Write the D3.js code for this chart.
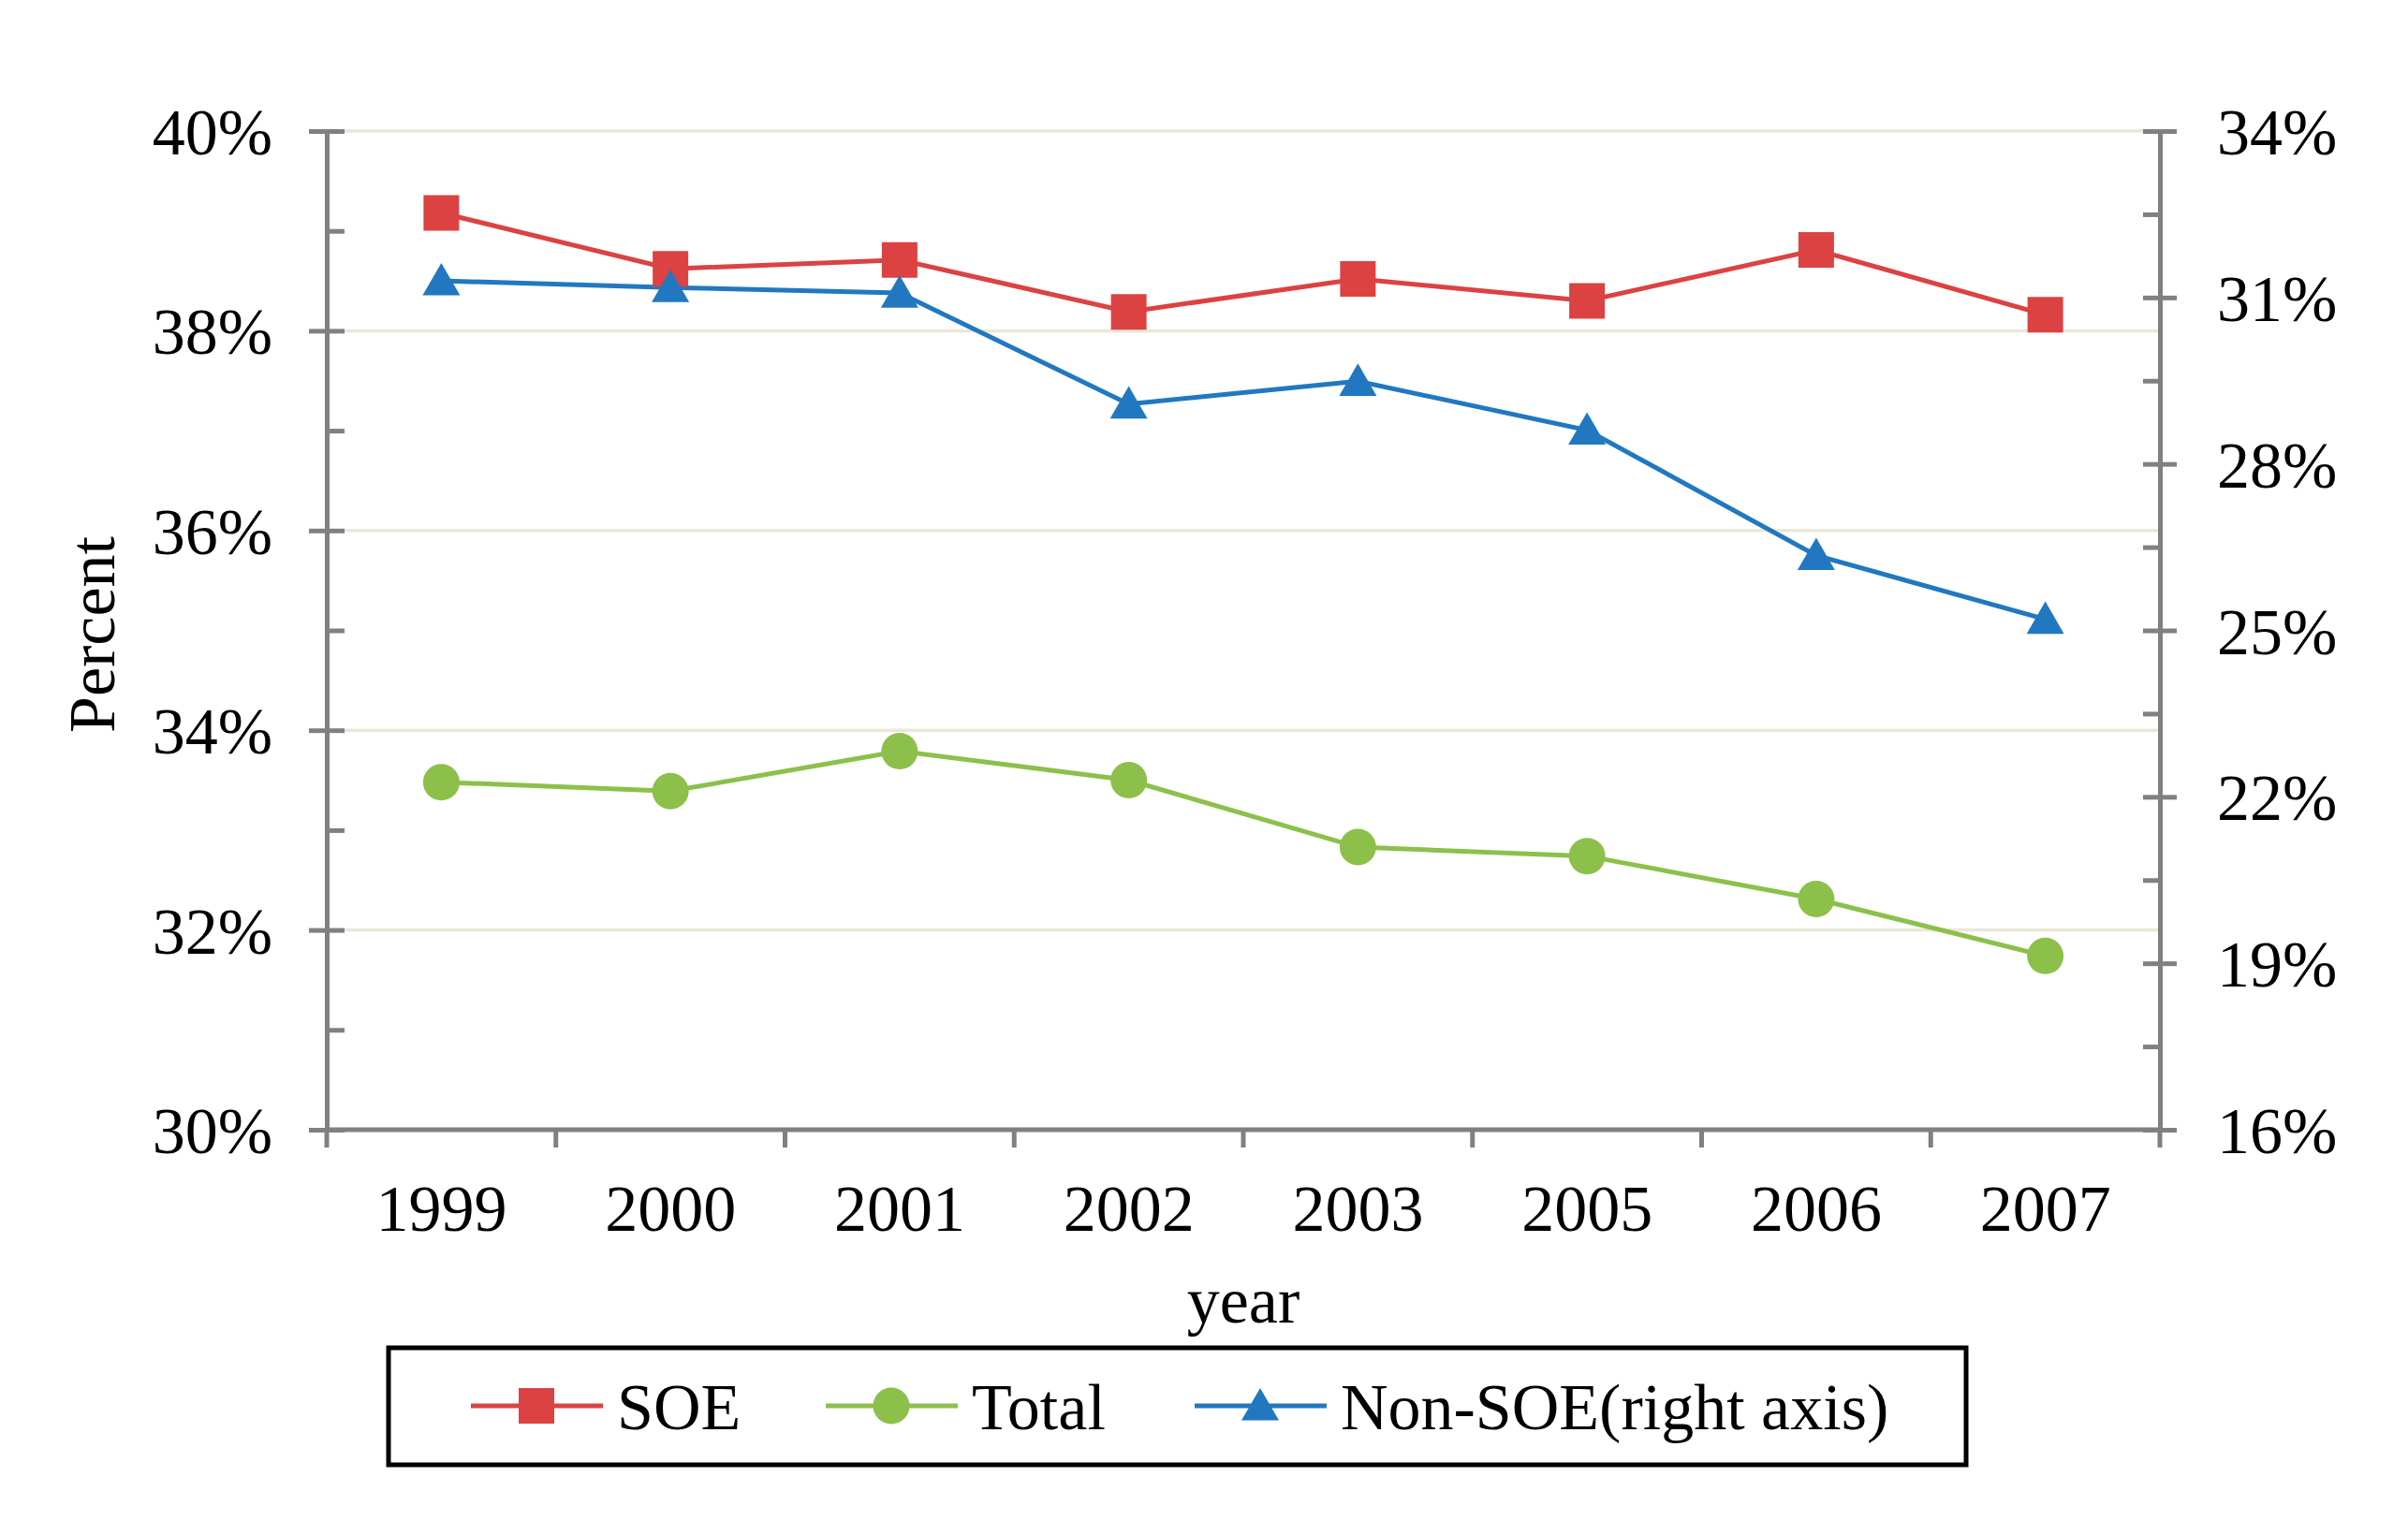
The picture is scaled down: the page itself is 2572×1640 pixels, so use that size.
<!DOCTYPE html>
<html>
<head>
<meta charset="utf-8">
<script src="https://cdn.jsdelivr.net/npm/d3@7"></script>
<style>
  body { margin: 0; background: #fff; }
  text { font-family: "Liberation Serif", "Times New Roman", serif; fill: #000; }
</style>
</head>
<body>
<div id="chart"></div>
<script>
// --- data ---
const years = ['1999', '2000', '2001', '2002', '2003', '2005', '2006', '2007'];
const soe = [39.18, 38.62, 38.71, 38.19, 38.52, 38.30, 38.81, 38.16];
const total = [33.48, 33.39, 33.79, 33.50, 32.83, 32.74, 32.31, 31.74];
const nonSoe = [31.30, 31.18, 31.08, 29.08, 29.49, 28.61, 26.35, 25.20];
const leftTicks = [30, 32, 34, 36, 38, 40];
const leftMinor = [30, 31, 32, 33, 34, 35, 36, 37, 38, 39, 40];
const rightTicks = [16, 19, 22, 25, 28, 31, 34];
const rightMinor = [16, 17.5, 19, 20.5, 22, 23.5, 25, 26.5, 28, 29.5, 31, 32.5, 34];
const legendNames = ['SOE', 'Total', 'Non-SOE(right axis)'];

const width = 2572, height = 1640;
const mLeft = 349, mRight = 2307, mTop = 140, mBottom = 1207;
const RED = '#dc4242', GREEN = '#8cc04b', BLUE = '#2178c0', AXIS = '#808080';

const svg = d3.select('#chart').append('svg')
  .attr('width', width)
  .attr('height', height);
svg.append('rect').attr('width', width).attr('height', height).attr('fill', '#fff');

const x = d3.scaleBand().domain(years).range([mLeft, mRight]).padding(0);
const yL = d3.scaleLinear().domain([30, 40]).range([mBottom, mTop]);
const yR = d3.scaleLinear().domain([16, 34]).range([mBottom, mTop]);
const cx = d => x(d) + x.bandwidth() / 2;

// gridlines
svg.append('g')
  .selectAll('line')
  .data(leftTicks.filter(v => v !== 30))
  .enter().append('line')
  .attr('x1', mLeft).attr('x2', mRight)
  .attr('y1', d => yL(d)).attr('y2', d => yL(d))
  .attr('stroke', '#ebe7d8')
  .attr('stroke-width', 3.5);

// left axis: minor ticks inside, major ticks crossing
svg.append('g')
  .attr('transform', `translate(${mLeft},0)`)
  .call(d3.axisRight(yL).tickValues(leftMinor).tickSize(19).tickSizeOuter(0).tickFormat(''))
  .call(g => g.select('.domain').remove());
const gl = svg.append('g')
  .attr('transform', `translate(${mLeft},0)`)
  .call(d3.axisLeft(yL).tickValues(leftTicks).tickSize(19).tickSizeOuter(0)
    .tickPadding(39).tickFormat(d => d + '%'));
gl.selectAll('text').attr('font-size', 70).attr('dy', '0.35em');

// right axis
svg.append('g')
  .attr('transform', `translate(${mRight},0)`)
  .call(d3.axisLeft(yR).tickValues(rightMinor).tickSize(18).tickSizeOuter(0).tickFormat(''))
  .call(g => g.select('.domain').remove());
const gr = svg.append('g')
  .attr('transform', `translate(${mRight},0)`)
  .call(d3.axisRight(yR).tickValues(rightTicks).tickSize(18).tickSizeOuter(0)
    .tickPadding(43).tickFormat(d => d + '%'));
gr.selectAll('text').attr('font-size', 70).attr('dy', '0.35em');

// bottom axis
const gb = svg.append('g')
  .attr('transform', `translate(0,${mBottom})`)
  .call(d3.axisBottom(x).tickSize(0).tickSizeOuter(0));
gb.selectAll('text').attr('font-size', 70).attr('y', 108).attr('dy', 0);
gb.select('.domain').remove();
const bounds = years.map(d => x(d)).concat([x(years[years.length - 1]) + x.bandwidth()]);
const axisLines = svg.append('g');
axisLines.selectAll('line').data(bounds).enter().append('line')
  .attr('x1', d => d).attr('x2', d => d)
  .attr('y1', mBottom).attr('y2', mBottom + 19);
axisLines.append('line')
  .attr('x1', mLeft).attr('x2', mRight)
  .attr('y1', mBottom).attr('y2', mBottom);
axisLines.selectAll('line').attr('stroke', AXIS).attr('stroke-width', 5);

svg.selectAll('.tick line').attr('stroke', AXIS).attr('stroke-width', 5);
svg.selectAll('.domain').attr('stroke', AXIS).attr('stroke-width', 5);
svg.selectAll('.tick text').attr('font-family', null).attr('fill', '#000');

// axis titles
svg.append('text')
  .attr('transform', 'translate(122,678) rotate(-90)')
  .attr('text-anchor', 'middle')
  .attr('font-size', 70)
  .text('Percent');
svg.append('text')
  .attr('x', (mLeft + mRight) / 2)
  .attr('y', 1413)
  .attr('text-anchor', 'middle')
  .attr('font-size', 70)
  .text('year');

// series
const series = [
  {name: legendNames[0], values: soe, y: yL, color: RED, shape: d3.symbolSquare, size: 38 * 38, dy: 0},
  {name: legendNames[1], values: total, y: yL, color: GREEN, shape: d3.symbolCircle, size: Math.PI * 19.5 * 19.5, dy: 0},
  {name: legendNames[2], values: nonSoe, y: yR, color: BLUE, shape: d3.symbolTriangle, size: 40 * 40 * Math.sqrt(3) / 4, dy: 4}
];

series.forEach(s => {
  const line = d3.line()
    .x((d, i) => cx(years[i]))
    .y(d => s.y(d));
  svg.append('path')
    .datum(s.values)
    .attr('fill', 'none')
    .attr('stroke', s.color)
    .attr('stroke-width', 5)
    .attr('d', line);
});
series.forEach(s => {
  const sym = d3.symbol().type(s.shape).size(s.size);
  svg.append('g').selectAll('path')
    .data(s.values)
    .enter().append('path')
    .attr('transform', (d, i) => `translate(${cx(years[i])},${s.y(d) + s.dy})`)
    .attr('d', sym)
    .attr('fill', s.color);
});

// legend
const legend = svg.append('g');
legend.append('rect')
  .attr('x', 415).attr('y', 1440)
  .attr('width', 1685).attr('height', 125)
  .attr('fill', '#fff')
  .attr('stroke', '#000')
  .attr('stroke-width', 5);
const legX = [503, 882, 1276];
series.forEach((s, i) => {
  const g = legend.append('g').attr('transform', `translate(${legX[i]},1502)`);
  g.append('line').attr('x1', 0).attr('x2', 141).attr('y1', 0).attr('y2', 0)
    .attr('stroke', s.color).attr('stroke-width', 5);
  g.append('path')
    .attr('d', d3.symbol().type(s.shape).size(s.size)())
    .attr('transform', `translate(70,${s.dy})`)
    .attr('fill', s.color);
  g.append('text')
    .attr('x', 156).attr('y', 25)
    .attr('font-size', 70)
    .text(s.name);
});
</script>
</body>
</html>
